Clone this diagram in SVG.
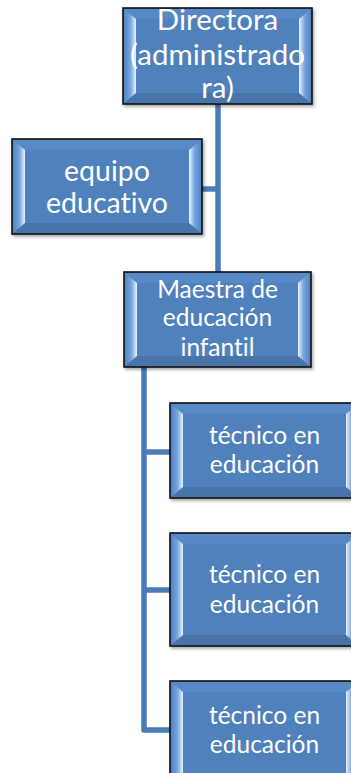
<svg xmlns="http://www.w3.org/2000/svg" width="351" height="773" viewBox="0 0 351 773">
<defs>
<linearGradient id="bl" x1="0" y1="0" x2="1" y2="0">
<stop offset="0" stop-color="#4f84c4"/><stop offset="0.55" stop-color="#7aa6dc"/><stop offset="0.85" stop-color="#c3dbf7"/><stop offset="1" stop-color="#eaf4ff"/>
</linearGradient>
<linearGradient id="br" x1="1" y1="0" x2="0" y2="0">
<stop offset="0" stop-color="#4f84c4"/><stop offset="0.55" stop-color="#7aa6dc"/><stop offset="0.85" stop-color="#c3dbf7"/><stop offset="1" stop-color="#eaf4ff"/>
</linearGradient>
<filter id="sh" x="-10%" y="-10%" width="125%" height="125%">
<feDropShadow dx="1.5" dy="2" stdDeviation="1.5" flood-color="#000" flood-opacity="0.35"/>
</filter>
<style>
.box{fill:#4f81bd;stroke:#111;stroke-width:1.6;filter:url(#sh)}
.bt{fill:#5789c6}
.bb{fill:#4874aa}
.bl{fill:url(#bl)}
.br{fill:url(#br)}
.t{fill:#fff;font-family:Lato,"Liberation Sans",sans-serif;text-anchor:middle;font-variant-ligatures:none}
.c{fill:none;stroke:#4a7cb8;stroke-width:5.5;stroke-linejoin:round}
</style>
</defs>
<g id="connectors">
<path class="c" d="M218,104 V272"/>
<path class="c" d="M202,189 H218"/>
<path class="c" d="M144,367 V730 H170"/>
<path class="c" d="M144,452 H170"/>
<path class="c" d="M144,590 H170"/>
</g>
<g id="directora">
<rect class="box" x="123" y="8" width="189" height="96"/>
<polygon class="bt" points="124,9 311,9 299,19 136,19"/>
<polygon class="bb" points="124,103 311,103 299,93 136,93"/>
<polygon class="bl" points="124,9 136,19 136,93 124,103"/>
<polygon class="br" points="311,9 299,19 299,93 311,103"/>
<text class="t" font-size="29.5" x="217.5" y="30">Directora</text>
<text class="t" font-size="29.5" x="217.5" y="65">(administrado</text>
<text class="t" font-size="29.5" x="217.5" y="98">ra)</text>
</g>
<g id="equipo">
<rect class="box" x="12" y="139" width="190" height="95"/>
<polygon class="bt" points="13,140 201,140 189,150 25,150"/>
<polygon class="bb" points="13,233 201,233 189,223 25,223"/>
<polygon class="bl" points="13,140 25,150 25,223 13,233"/>
<polygon class="br" points="201,140 189,150 189,223 201,233"/>
<text class="t" font-size="28.5" x="107" y="181">equipo</text>
<text class="t" font-size="28.5" x="107" y="213">educativo</text>
</g>
<g id="maestra">
<rect class="box" x="124" y="272" width="187" height="95"/>
<polygon class="bt" points="125,273 310,273 298,283 137,283"/>
<polygon class="bb" points="125,366 310,366 298,356 137,356"/>
<polygon class="bl" points="125,273 137,283 137,356 125,366"/>
<polygon class="br" points="310,273 298,283 298,356 310,366"/>
<text class="t" font-size="24.5" x="217.5" y="298">Maestra de</text>
<text class="t" font-size="24.5" x="217.5" y="326">educación</text>
<text class="t" font-size="24.5" x="217.5" y="356">infantil</text>
</g>
<g id="tecnico1">
<rect class="box" x="170" y="403" width="189" height="95"/>
<polygon class="bt" points="171,404 358,404 346,414 183,414"/>
<polygon class="bb" points="171,497 358,497 346,487 183,487"/>
<polygon class="bl" points="171,404 183,414 183,487 171,497"/>
<polygon class="br" points="358,404 346,414 346,487 358,497"/>
<text class="t" font-size="24.5" x="264.5" y="444">técnico en</text>
<text class="t" font-size="24.5" x="264.5" y="473">educación</text>
</g>
<g id="tecnico2">
<rect class="box" x="170" y="533" width="189" height="113"/>
<polygon class="bt" points="171,534 358,534 346,544 183,544"/>
<polygon class="bb" points="171,645 358,645 346,635 183,635"/>
<polygon class="bl" points="171,534 183,544 183,635 171,645"/>
<polygon class="br" points="358,534 346,544 346,635 358,645"/>
<text class="t" font-size="24.5" x="264.5" y="583">técnico en</text>
<text class="t" font-size="24.5" x="264.5" y="613">educación</text>
</g>
<g id="tecnico3">
<rect class="box" x="170" y="681" width="189" height="110"/>
<polygon class="bt" points="171,682 358,682 346,692 183,692"/>
<polygon class="bl" points="171,682 183,692 183,781 171,791"/>
<polygon class="br" points="358,682 346,692 346,781 358,791"/>
<text class="t" font-size="24.5" x="264.5" y="724">técnico en</text>
<text class="t" font-size="24.5" x="264.5" y="753">educación</text>
</g>
</svg>
